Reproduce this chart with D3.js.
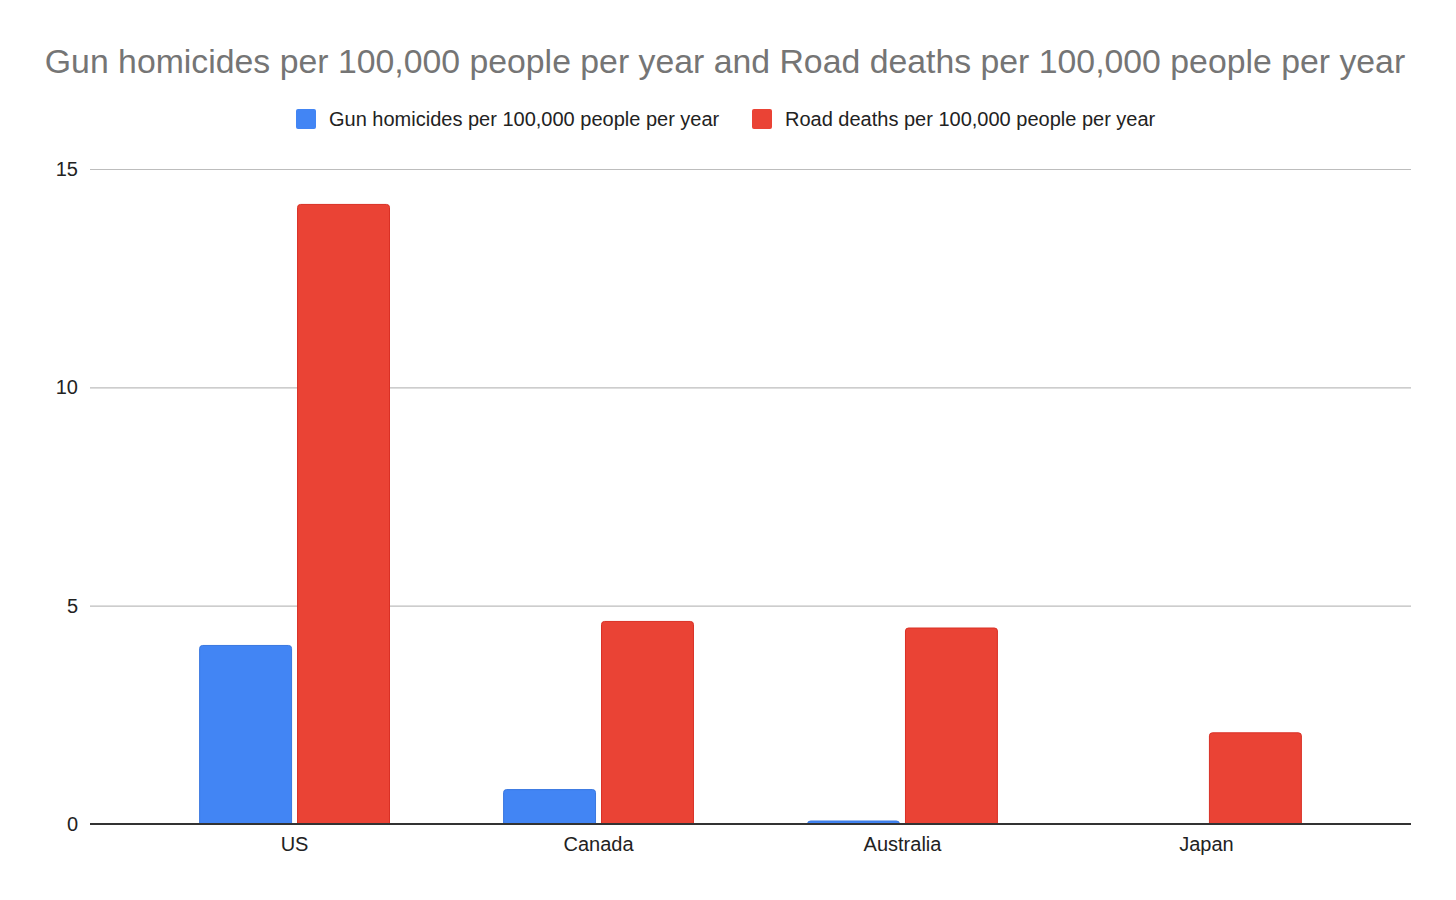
<!DOCTYPE html>
<html><head><meta charset="utf-8">
<script src="https://cdn.jsdelivr.net/npm/d3@7/dist/d3.min.js"></script>
<style>html,body{margin:0;padding:0;background:#fff;}svg{display:block;font-family:"Liberation Sans",Arial,sans-serif;}</style>
</head><body>
<script>
const categories = ["US", "Canada", "Australia", "Japan"];
const seriesNames = ["Gun homicides per 100,000 people per year", "Road deaths per 100,000 people per year"];
const gunHomicides = [4.1, 0.8, 0.08, 0];
const roadDeaths = [14.2, 4.65, 4.5, 2.1];
const yTicks = [0, 5, 10, 15];
const colors = ["#4285f4", "#ea4335"];
const strokes = ["#3a78e0", "#d93025"];
const title = "Gun homicides per 100,000 people per year and Road deaths per 100,000 people per year";

const W = 1456, H = 900;
const m = {left: 90, right: 45, top: 169, bottom: 76};
const svg = d3.select("body").append("svg").attr("width", W).attr("height", H);

const y = d3.scaleLinear().domain([0, 15]).range([H - m.bottom, m.top]);
const x0 = d3.scaleBand().domain(categories).range([m.left, W - m.right]).paddingInner(0.372).paddingOuter(0.359);
const x1 = d3.scaleBand().domain([0, 1]).range([0, x0.bandwidth()]).paddingInner(0.051);

svg.append("text").attr("x", 725).attr("y", 73).attr("text-anchor", "middle")
  .attr("font-size", 33.8).attr("fill", "#757575").text(title);

// legend
const leg = [{x: 296, i: 0}, {x: 752, i: 1}];
leg.forEach(l => {
  svg.append("rect").attr("x", l.x).attr("y", 109).attr("width", 20).attr("height", 20).attr("rx", 2)
    .attr("fill", colors[l.i]);
  svg.append("text").attr("x", l.x + 33).attr("y", 126).attr("font-size", 20).attr("fill", "#222")
    .text(seriesNames[l.i]);
});

// grid
const yAxis = d3.axisLeft(y).tickValues(yTicks).tickSize(-(W - m.left - m.right)).tickFormat(d3.format("d"));
const ga = svg.append("g").attr("transform", `translate(${m.left},0)`).call(yAxis);
ga.select(".domain").remove();
ga.selectAll(".tick line").attr("stroke", "#bdbdbd").attr("stroke-width", 1.2);
ga.selectAll(".tick text").attr("x", -12).attr("dy", "0.32em").attr("font-size", 20).attr("fill", "#222")
  .attr("font-family", "Liberation Sans, Arial, sans-serif");

const data = categories.map((c, i) => ({c, v: [gunHomicides[i], roadDeaths[i]]}));

function topRounded(xp, yp, w, h, r) {
  if (h <= 0) return "";
  r = Math.min(r, h, w / 2);
  return `M${xp},${yp + h}V${yp + r}Q${xp},${yp} ${xp + r},${yp}H${xp + w - r}Q${xp + w},${yp} ${xp + w},${yp + r}V${yp + h}Z`;
}

const g = svg.append("g");
data.forEach(d => {
  d.v.forEach((v, j) => {
    if (v <= 0) return;
    const bx = x0(d.c) + x1(j), by = y(v), bh = y(0) - y(v);
    g.append("path").attr("d", topRounded(bx + 0.5, by + 0.5, x1.bandwidth() - 1, bh - 0.5, 3))
      .attr("fill", colors[j]).attr("stroke", strokes[j]).attr("stroke-width", 1);
  });
});

// x axis
const xAxis = d3.axisBottom(x0).tickSize(0).tickPadding(13);
const gx = svg.append("g").attr("transform", `translate(0,${y(0)})`).call(xAxis);
gx.select(".domain").attr("stroke", "#333").attr("stroke-width", 2).attr("d", `M${m.left},0H${W - m.right}`);
gx.selectAll(".tick text").attr("font-size", 20).attr("fill", "#222").attr("font-family", "Liberation Sans, Arial, sans-serif");
</script>
</body></html>
